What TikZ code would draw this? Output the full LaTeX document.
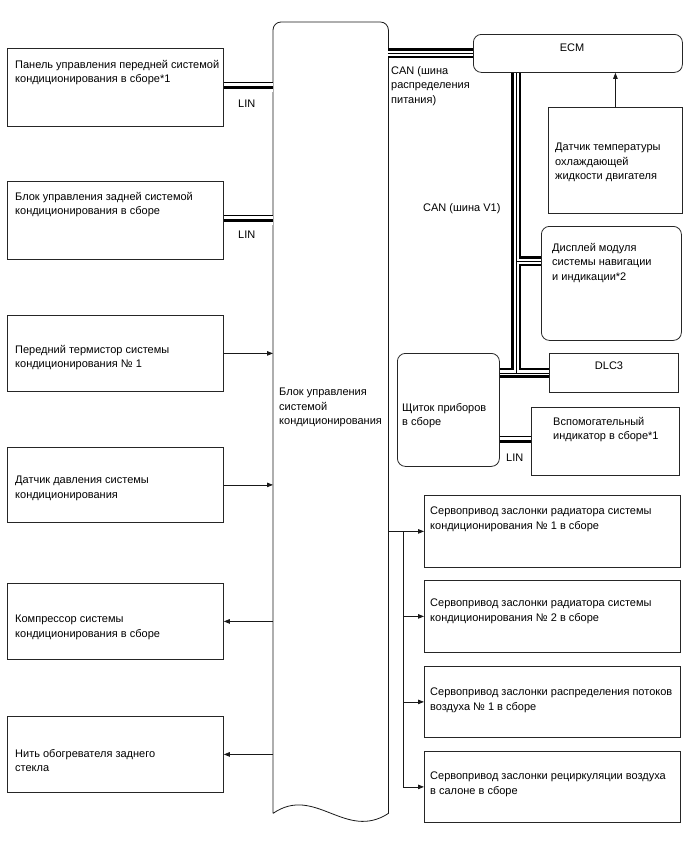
\documentclass[tikz,border=0pt]{standalone}
\usepackage{fontspec}
\setmainfont{Liberation Sans}
\usetikzlibrary{arrows.meta,calc}
\begin{document}
\begin{tikzpicture}[x=1pt,y=-1pt,
  box/.style={draw=black!85, line width=0.8pt, inner sep=0pt, anchor=north west},
  rbox/.style={box, rounded corners=8pt},
  txt/.style={anchor=north west, inner sep=0pt, align=left, font=\fontsize{11}{14.5}\selectfont,
    execute at begin node={\rule{0pt}{8.5pt}}},
  arr/.style={draw=black!90, line width=0.8pt, -{Triangle[length=6pt,width=4.5pt]}},
  plain/.style={draw=black!90, line width=0.8pt},
  can/.style={double=white, draw=black, line width=2.5pt, double distance=5pt},
  cancenter/.style={draw=black, line width=0.7pt},
  lin/.style={double=white, draw=black, line width=0.8pt, double distance=8.5pt},
  lincenter/.style={draw=black, line width=3pt}]
\useasboundingbox (0,0) rectangle (688,852);

% left boxes
\node[box, minimum width=216pt, minimum height=78pt] (b1) at (7,48) {};
\node[box, minimum width=216pt, minimum height=78pt] (b2) at (7,181) {};
\node[box, minimum width=216pt, minimum height=76pt] (b3) at (7,315) {};
\node[box, minimum width=216pt, minimum height=75pt] (b4) at (7,447) {};
\node[box, minimum width=216pt, minimum height=76pt] (b5) at (7,583) {};
\node[box, minimum width=216pt, minimum height=76pt] (b6) at (7,716) {};

\node[txt] (t1) at (15,60) {Панель управления передней системой\\кондиционирования в сборе*1};
\node[txt] (t2) at (15,192) {Блок управления задней системой\\кондиционирования в сборе};
\node[txt] (t3) at (15,345) {Передний термистор системы\\кондиционирования № 1};
\node[txt] (t4) at (15,476) {Датчик давления системы\\кондиционирования};
\node[txt] (t5) at (15,615) {Компрессор системы\\кондиционирования в сборе};
\node[txt] (t6) at (15,749) {Нить обогревателя заднего\\стекла};

% central block
\node[inner sep=0pt, minimum width=115pt, minimum height=791pt, anchor=north west] (blk) at (273,22) {};
\draw[plain] (blk.south west) -- ($(blk.north west)+(0,8)$) arc[start angle=180, end angle=90, radius=8pt]
  -- ($(blk.north east)+(-8,0)$) arc[start angle=90, end angle=0, radius=8pt]
  -- (blk.south east) .. controls ($(blk.south east)+(-43,28)$) and ($(blk.south west)+(42,-29)$) .. (blk.south west);
\node[txt] (tb) at (279,388) {Блок управления\\системой\\кондиционирования};

% right side
\node[rbox, minimum width=209pt, minimum height=38pt] (ecm) at (473,34) {};
\node[inner sep=0pt, font=\fontsize{11}{14.5}\selectfont] (tecm) at (572,48) {ECM};
\node[box, minimum width=134pt, minimum height=106pt] (sens) at (548,107) {};
\node[txt] (tsens) at (555,143) {Датчик температуры\\охлаждающей\\жидкости двигателя};
\node[rbox, minimum width=140pt, minimum height=114pt] (disp) at (541,226) {};
\node[txt] (tdisp) at (552,243) {Дисплей модуля\\системы навигации\\и индикации*2};
\node[box, minimum width=129pt, minimum height=39pt] (dlc) at (549,353) {};
\node[inner sep=0pt, font=\fontsize{11}{14.5}\selectfont] (tdlc) at (609,366) {DLC3};
\node[rbox, minimum width=102pt, minimum height=113pt] (shch) at (397,353) {};
\node[txt] (tshch) at (402,403) {Щиток приборов\\в сборе};
\node[box, minimum width=148pt, minimum height=68pt] (vsp) at (531,407) {};
\node[txt] (tvsp) at (553,417) {Вспомогательный\\индикатор в сборе*1};

\node[box, minimum width=256pt, minimum height=72pt] (s1) at (424,495) {};
\node[box, minimum width=256pt, minimum height=72pt] (s2) at (424,580) {};
\node[box, minimum width=256pt, minimum height=71pt] (s3) at (424,666) {};
\node[box, minimum width=256pt, minimum height=71pt] (s4) at (424,751) {};
\node[txt] (ts1) at (430,507) {Сервопривод заслонки радиатора системы\\кондиционирования № 1 в сборе};
\node[txt] (ts2) at (430,599) {Сервопривод заслонки радиатора системы\\кондиционирования № 2 в сборе};
\node[txt] (ts3) at (430,688) {Сервопривод заслонки распределения потоков\\воздуха № 1 в сборе};
\node[txt] (ts4) at (430,772) {Сервопривод заслонки рециркуляции воздуха\\в салоне в сборе};

% labels
\node[txt] (lin1) at (238,99) {LIN};
\node[txt] (lin2) at (238,230) {LIN};
\node[txt] (lin3) at (506,453) {LIN};
\node[txt] (can1) at (391,66) {CAN (шина\\распределения\\питания)};
\node[txt] (can2) at (423,203) {CAN (шина V1)};

% arrows
\draw[arr] (b3.east) -- (b3.east -| blk.west);
\draw[arr] (b4.east) -- (b4.east -| blk.west);
\draw[arr] (b5.east -| blk.west) -- (b5.east);
\draw[arr] (b6.east -| blk.west) -- (b6.east);
\draw[arr] (sens.north) -- (sens.north |- ecm.south);

\coordinate (tr) at (403,0);
\draw[plain] (s1.west -| blk.east) -- (s1.west -| tr) -- (s4.west -| tr);
\draw[arr] (s1.west -| tr) -- (s1.west);
\draw[arr] (s2.west -| tr) -- (s2.west);
\draw[arr] (s3.west -| tr) -- (s3.west);
\draw[arr] (s4.west -| tr) -- (s4.west);

% LIN buses
\draw[lin] (b1.east) -- (b1.east -| blk.west);
\draw[lincenter] (b1.east) -- (b1.east -| blk.west);
\draw[lin] (b2.east) -- (b2.east -| blk.west);
\draw[lincenter] (b2.east) -- (b2.east -| blk.west);
\draw[lin] (vsp.west -| shch.east) -- (vsp.west);
\draw[lincenter] (vsp.west -| shch.east) -- (vsp.west);

% CAN buses
\coordinate (tx) at (516,0);
\coordinate (brd) at (0,261);
\draw[can] (ecm.west -| blk.east) -- (ecm.west)
  (ecm.south -| tx) -- (tx |- dlc.west)
  (shch.east |- dlc.west) -- (dlc.west)
  (tx |- brd) -- (disp.west |- brd);
\draw[cancenter] (ecm.west -| blk.east) -- (ecm.west)
  (ecm.south -| tx) -- (tx |- dlc.west)
  (shch.east |- dlc.west) -- (dlc.west)
  (tx |- brd) -- (disp.west |- brd);
\end{tikzpicture}
\end{document}
